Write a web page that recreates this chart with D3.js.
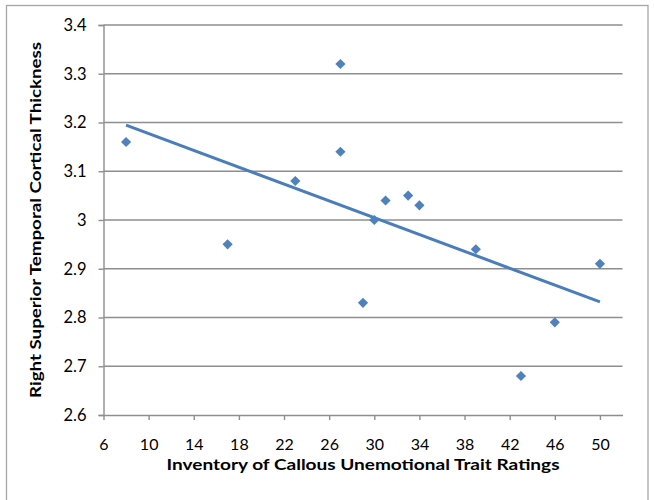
<!DOCTYPE html>
<html>
<head>
<meta charset="utf-8">
<script src="https://cdn.jsdelivr.net/npm/d3@7/dist/d3.min.js"></script>
<style>
  html, body { margin: 0; padding: 0; background: #fff; }
  svg { display: block; }
  text { font-family: "Lato", "Open Sans", "DejaVu Sans", sans-serif; fill: #000; }
</style>
</head>
<body>
<svg id="chart" width="654" height="500"></svg>
<script>
// ---- Data ----
const icuScores = [8, 17, 23, 27, 27, 29, 30, 31, 33, 34, 39, 43, 46, 50];
const thickness = [3.16, 2.95, 3.08, 3.32, 3.14, 2.83, 3.00, 3.04, 3.05, 3.03, 2.94, 2.68, 2.79, 2.91];
const xTicks = [6, 10, 14, 18, 22, 26, 30, 34, 38, 42, 46, 50];
const yTicks = [2.6, 2.7, 2.8, 2.9, 3.0, 3.1, 3.2, 3.3, 3.4];
const xTitle = "Inventory of Callous Unemotional Trait Ratings";
const yTitle = "Right Superior Temporal Cortical Thickness";

const points = icuScores.map((x, i) => ({ x, y: thickness[i] }));

// ---- Layout ----
const svg = d3.select("#chart");
const margin = { left: 103.5, right: 654 - 622.5, top: 25, bottom: 500 - 415 };
const width = 654 - margin.left - margin.right;
const height = 500 - margin.top - margin.bottom;

// outer frame
svg.append("rect")
  .attr("x", 6.5).attr("y", 5.5)
  .attr("width", 648 - 6.5).attr("height", 520)
  .attr("fill", "none").attr("stroke", "#a6a6a6").attr("stroke-width", 1.3);

const g = svg.append("g").attr("transform", `translate(${margin.left},${margin.top})`);

const x = d3.scaleLinear().domain([6, 52]).range([0, width]);
const y = d3.scaleLinear().domain([2.6, 3.4]).range([height, 0]);

const gridColor = "#8e8e8e";

// horizontal gridlines
g.append("g").selectAll("line")
  .data(yTicks.filter(t => t > 2.6))
  .join("line")
  .attr("x1", 0).attr("x2", width)
  .attr("y1", d => y(d)).attr("y2", d => y(d))
  .attr("stroke", gridColor).attr("stroke-width", 1.4);

// y axis
const yAxis = g.append("g")
  .call(d3.axisLeft(y).tickValues(yTicks).tickSize(5).tickPadding(12)
    .tickFormat(d => d3.format("")(+d.toFixed(1))));
yAxis.select(".domain").attr("stroke", gridColor).attr("stroke-width", 1.4);
yAxis.selectAll(".tick line").attr("stroke", gridColor).attr("stroke-width", 1.4);
yAxis.selectAll(".tick text").style("font-size", "16.5px").attr("fill", "#000");

// x axis
const xAxis = g.append("g").attr("transform", `translate(0,${height})`)
  .call(d3.axisBottom(x).tickValues(xTicks).tickSize(5).tickPadding(19).tickSizeOuter(0));
xAxis.select(".domain").attr("stroke", gridColor).attr("stroke-width", 1.4);
xAxis.selectAll(".tick line").attr("stroke", gridColor).attr("stroke-width", 1.4);
xAxis.selectAll(".tick text").style("font-size", "16px").attr("fill", "#000");

// linear trendline (least squares on the data)
const mx = d3.mean(icuScores), my = d3.mean(thickness);
const sxy = d3.sum(points, p => (p.x - mx) * (p.y - my));
const sxx = d3.sum(points, p => (p.x - mx) * (p.x - mx));
const slope = sxy / sxx, intercept = my - slope * mx;
const xr = d3.extent(icuScores);
g.append("line")
  .attr("x1", x(xr[0])).attr("y1", y(intercept + slope * xr[0]))
  .attr("x2", x(xr[1])).attr("y2", y(intercept + slope * xr[1]))
  .attr("stroke", "#4a7ebb").attr("stroke-width", 3);

// markers (diamonds)
g.append("g").selectAll("path")
  .data(points)
  .join("path")
  .attr("d", d3.symbol(d3.symbolSquare, 52))
  .attr("transform", d => `translate(${x(d.x)},${y(d.y)}) rotate(45)`)
  .attr("fill", "#4f81bd");

// axis titles
svg.append("text")
  .attr("x", margin.left + width / 2).attr("y", 470)
  .attr("text-anchor", "middle")
  .style("font-size", "15.5px").style("font-weight", "bold")
  .attr("textLength", 393).attr("lengthAdjust", "spacingAndGlyphs")
  .text(xTitle);

svg.append("text")
  .attr("transform", `translate(41,${margin.top + height / 2}) rotate(-90)`)
  .attr("text-anchor", "middle")
  .style("font-size", "15.5px").style("font-weight", "bold")
  .attr("textLength", 356).attr("lengthAdjust", "spacingAndGlyphs")
  .text(yTitle);
</script>
</body>
</html>
